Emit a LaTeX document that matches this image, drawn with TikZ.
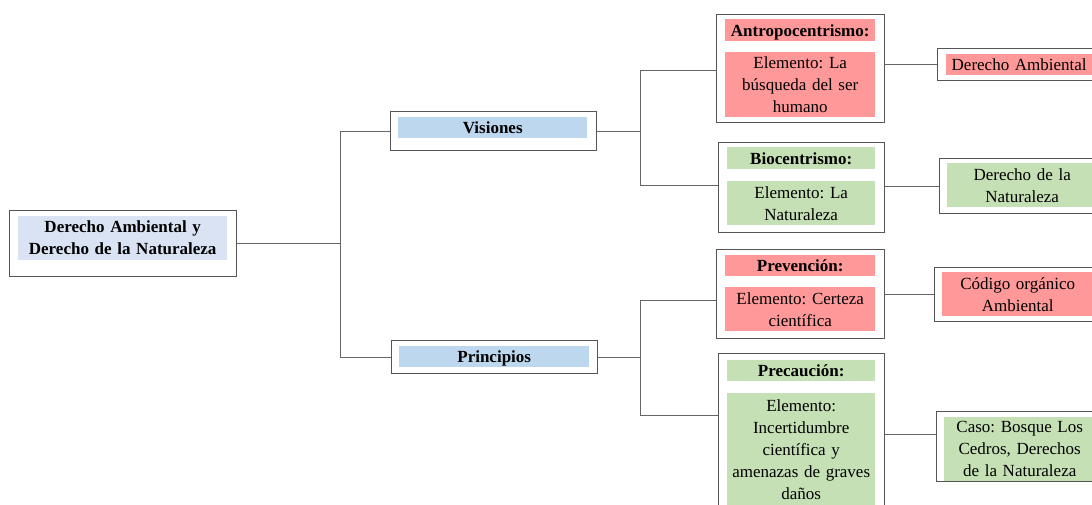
\documentclass[tikz,border=0pt]{standalone}
\usepackage{fontspec}
\setmainfont{Liberation Serif}
\usepackage{xcolor}
\usepackage{tikz}
\usetikzlibrary{positioning, calc}

\definecolor{rosa}{HTML}{FF9999}
\definecolor{verde}{HTML}{C5E0B4}
\definecolor{azulc}{HTML}{DAE3F3}
\definecolor{azul}{HTML}{BDD7EE}
\definecolor{borde}{HTML}{555555}
\definecolor{linea}{HTML}{666666}

\tikzset{
  every node/.style={font=\fontsize{17}{22}\selectfont\frenchspacing, inner sep=0pt, anchor=north west},
  marco/.style={draw=borde, line width=1.4pt, fill=white},
  relleno/.style={align=center},
  titulo/.style={relleno, minimum height=21pt, text height=14pt, text depth=2pt, font=\fontsize{17}{22}\selectfont\bfseries},
  conn/.style={draw=linea, line width=1pt}
}

\begin{document}
\begin{tikzpicture}[x=1pt, y=-1pt]
        \clip (0,0) rectangle (1092,504);
        \fill[white] (0,0) rectangle (1092,504);

        % Raiz
        \node[marco, minimum width=227pt, minimum height=66pt] (raiz) at (9,210) {};
        \node[relleno, fill=azulc, text width=209pt, minimum height=44pt, font=\fontsize{17}{22}\selectfont\bfseries] (raizt) at (18,216) {Derecho Ambiental y\\Derecho de la Naturaleza};

        % Visiones y Principios
        \node[marco, minimum width=206pt, minimum height=39pt] (vis) at (390,111) {};
        \node[titulo, fill=azul, text width=189pt] (vist) at (398,117) {Visiones};
        \node[marco, minimum width=206pt, minimum height=33pt] (prin) at (391,340) {};
        \node[titulo, fill=azul, text width=190pt] (print) at (399,346) {Principios};

        % Antropocentrismo
        \node[marco, minimum width=168pt, minimum height=108pt] (antro) at (716,14) {};
        \node[titulo, fill=rosa, text width=150pt, minimum height=22pt] (antroh) at (725,19) {Antropocentrismo:};
        \node[relleno, fill=rosa, text width=150pt, minimum height=65pt] (antrob) at (725,52) {Elemento: La\\búsqueda del ser\\humano};

        % Biocentrismo
        \node[marco, minimum width=166pt, minimum height=90pt] (bio) at (718,142) {};
        \node[titulo, fill=verde, text width=148pt, minimum height=22pt] (bioh) at (727,147) {Biocentrismo:};
        \node[relleno, fill=verde, text width=148pt, minimum height=44pt] (biob) at (727,181) {Elemento: La\\Naturaleza};

        % Prevencion
        \node[marco, minimum width=168pt, minimum height=89pt] (prev) at (716,249) {};
        \node[titulo, fill=rosa, text width=150pt] (prevh) at (725,255) {Prevención:};
        \node[relleno, fill=rosa, text width=150pt, minimum height=44pt] (prevb) at (725,287) {Elemento: Certeza\\científica};

        % Precaucion
        \node[marco, minimum width=166pt, minimum height=160pt] (prec) at (718,353) {};
        \node[titulo, fill=verde, text width=148pt] (prech) at (727,360) {Precaución:};
        \node[relleno, fill=verde, text width=148pt, minimum height=112pt] (precb) at (727,393) {Elemento:\\Incertidumbre\\científica y\\amenazas de graves\\daños};

        % Hojas
        \node[marco, minimum width=170pt, minimum height=32pt] (da) at (937,48) {};
        \node[relleno, fill=rosa, text width=146pt, minimum height=21pt, text height=14pt, text depth=2pt] (dat) at (946,54) {Derecho Ambiental};
        \node[marco, minimum width=170pt, minimum height=55pt] (dn) at (939,158) {};
        \node[relleno, fill=verde, text width=150pt, minimum height=44pt] (dnt) at (947,163) {Derecho de la\\Naturaleza};
        \node[marco, minimum width=170pt, minimum height=54pt] (coa) at (934,267) {};
        \node[relleno, fill=rosa, text width=151pt, minimum height=44pt] (coat) at (942,272) {Código orgánico\\Ambiental};
        \node[marco, minimum width=170pt, minimum height=70pt] (caso) at (936,411) {};
        \node[relleno, fill=verde, text width=151pt, minimum height=64pt] (casot) at (944,417) {Caso: Bosque Los\\Cedros, Derechos\\de la Naturaleza};

        % Lineas
        \coordinate (eje1) at (340,0);
        \coordinate (eje2) at (640,0);
        \coordinate (antroin) at ([yshift=-56pt]antro.north west);
        \coordinate (bioin) at ([yshift=-43pt]bio.north west);
        \coordinate (previn) at ([yshift=-51pt]prev.north west);
        \coordinate (precin) at ([yshift=-62pt]prec.north west);
        \coordinate (casoin) at ([yshift=-23pt]caso.north west);

        \draw[conn] (raiz.east) -- (raiz.east -| eje1);
        \draw[conn] (vis.west) -| (prin.west -| eje1) -- (prin.west);
        \draw[conn] (vis.east) -- (vis.east -| eje2);
        \draw[conn] (antroin) -| (bioin -| eje2) -- (bioin);
        \draw[conn] (prin.east) -- (prin.east -| eje2);
        \draw[conn] (previn) -| (precin -| eje2) -- (precin);
        \draw[conn] (antro.east |- da.west) -- (da.west);
        \draw[conn] (bio.east |- dn.west) -- (dn.west);
        \draw[conn] (prev.east |- coa.west) -- (coa.west);
        \draw[conn] (prec.east |- casoin) -- (casoin);
\end{tikzpicture}
\end{document}
